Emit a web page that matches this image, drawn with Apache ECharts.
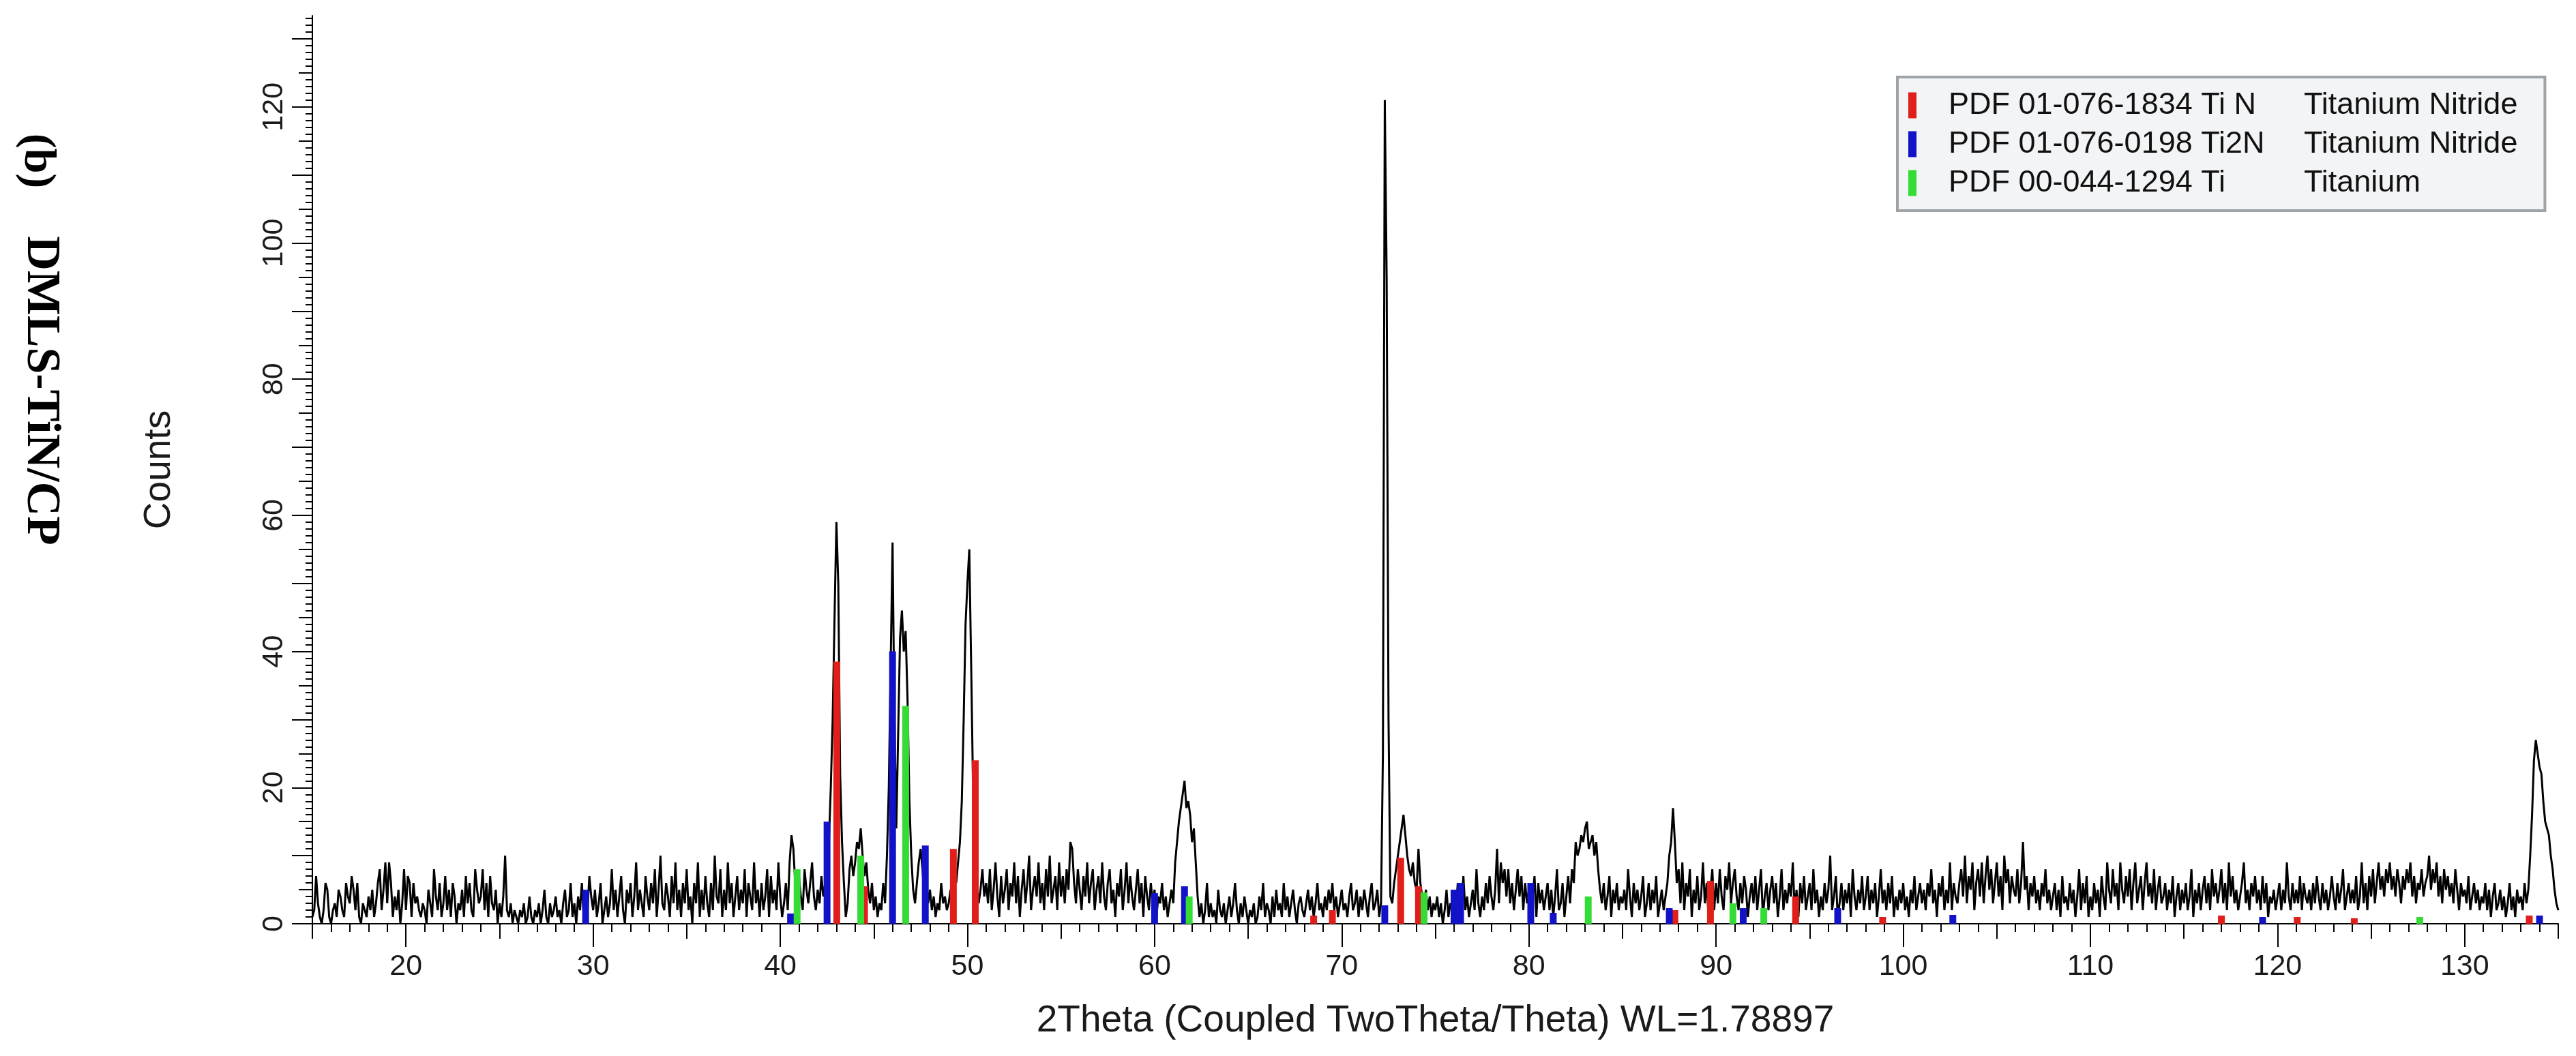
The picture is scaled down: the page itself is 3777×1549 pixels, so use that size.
<!DOCTYPE html>
<html><head><meta charset="utf-8">
<script src="https://cdn.jsdelivr.net/npm/echarts@6/dist/echarts.min.js"></script>
<style>html,body{margin:0;padding:0;background:#fff}#c{width:3777px;height:1549px}</style>
</head><body><div id="c"></div>
<script>
// scan step of the diffractometer (degrees 2theta)
const STEP = 0.1;
// measured counts, 0.1 deg steps; each block starts at the given angle
const counts15 = [
1,2,7,3,1,0,2,6,5,1, 0,2,3,1,5,4,2,1,6,4, 3,7,5,2,6,1,0,3,2,1, 4,2,5,1,3,6,8,2,5,9, 3,9,6,1,4,2,5,0,3,8,
2,7,6,1,6,3,4,2,1,3, 2,0,5,3,1,8,4,2,6,1, 3,7,2,5,1,6,4,0,3,2, 5,1,7,3,6,2,1,8,5,3, 4,8,2,6,1,7,3,2,5,0];
const counts25 = [
3,1,4,10,2,1,3,0,2,1, 0,2,1,3,0,1,4,1,0,2, 1,3,0,2,5,1,0,3,1,2, 4,1,2,0,3,5,1,2,6,1, 3,0,4,2,6,1,3,2,7,4,
2,5,1,3,6,0,2,4,1,3, 8,2,5,1,4,7,2,0,5,3, 6,1,4,9,2,5,3,1,7,4, 2,6,3,8,1,5,10,3,2,6, 4,1,7,3,9,2,5,1,6,3];
const counts35 = [
8,2,4,0,6,3,9,1,5,2, 7,3,1,6,2,10,4,3,8,1, 5,2,9,3,6,1,4,7,2,5, 3,8,1,6,4,2,9,3,5,1, 6,2,4,8,1,7,3,5,2,9,
4,1,3,6,2,9,13,11,6,3, 7,4,2,8,5,3,6,9,4,2, 5,3,7,4,6,8,12,20,30,45, 59,50,22,12,6,1,3,8,10,7, 9,12,11,14,10,7,9,5,3,6];
const counts45 = [
2,4,1,3,2,6,3,10,20,38, 56,30,14,28,42,46,40,43,33,18, 10,5,3,6,9,11,8,4,7,3, 5,2,4,1,3,2,6,3,4,2, 3,5,2,8,6,9,12,18,30,44,
50,55,38,20,9,6,3,5,8,4, 6,3,8,2,5,9,4,1,7,3, 5,8,2,6,4,9,3,7,1,5, 8,3,6,10,2,5,7,4,9,3, 6,2,8,4,10,3,5,7,2,9];
const counts55 = [
4,7,3,8,5,12,11,6,3,8, 5,2,7,4,9,3,6,8,2,5, 7,3,9,4,2,6,8,3,5,1, 6,4,8,2,5,9,3,7,4,2, 5,8,3,6,1,7,4,2,6,3,
5,1,4,3,6,2,4,1,3,5, 3,9,12,15,17,19,21,17,18,16, 12,14,9,4,1,3,0,2,6,1, 3,1,2,0,5,2,1,3,0,2, 4,1,3,6,2,0,3,1,4,2];
const counts65 = [
0,2,1,3,0,1,4,2,6,1, 3,2,0,4,1,5,2,3,1,6, 2,4,1,3,5,2,0,3,4,2, 1,3,5,2,4,1,3,6,2,3, 1,4,2,5,3,6,2,4,1,3,
5,2,3,1,4,6,2,3,5,1, 4,2,5,3,1,4,6,2,3,5, 1,3,25,121,95,30,4,3,6,8, 10,12,14,16,13,10,8,7,9,6, 5,11,6,4,3,5,2,4,1,3];
const counts75 = [
2,4,1,3,0,2,5,1,3,2, 4,2,6,1,3,7,2,4,1,3, 5,2,8,3,1,4,2,6,3,7, 4,2,5,11,3,9,6,8,4,8, 3,6,2,5,8,4,7,2,6,3,
5,2,4,7,1,6,3,5,2,4, 6,2,5,1,4,8,2,3,6,1, 4,7,3,8,6,12,10,11,13,12, 14,15,11,12,13,10,12,8,5,3, 6,2,4,7,1,5,3,6,2,4];
const counts85 = [
3,5,2,8,4,1,6,3,5,2, 4,7,1,3,6,2,5,3,7,1, 3,5,2,4,6,10,12,17,12,6, 8,3,9,2,6,4,8,1,5,3, 7,2,4,9,3,6,1,5,8,2,
6,3,8,4,2,7,5,9,3,6, 8,4,2,6,3,7,5,1,4,6, 3,7,2,5,8,1,4,6,2,5, 7,3,6,1,4,8,2,5,3,6, 4,9,2,5,1,6,3,7,2,4];
const counts95 = [
6,2,8,3,5,1,4,2,6,3, 5,10,2,4,7,1,3,6,2,5, 3,6,1,8,4,2,5,3,7,2, 4,7,2,5,3,6,1,4,8,3, 5,2,6,3,7,1,4,2,5,3,
6,2,4,1,5,3,7,2,4,6, 3,5,2,6,4,8,3,5,1,6, 4,7,2,5,3,9,2,6,4,3, 6,8,4,10,3,7,5,9,2,6, 8,4,9,3,7,10,5,8,3,6];
const counts105 = [
9,4,7,2,10,6,8,3,7,5, 4,8,3,6,12,5,7,2,6,4, 7,3,5,2,6,4,8,3,5,2, 4,6,2,5,1,7,3,4,2,6, 3,5,1,4,8,2,6,3,7,1,
4,2,6,3,5,1,7,4,2,9, 5,3,8,4,6,2,9,5,3,7, 4,8,2,6,9,3,5,7,2,6, 9,4,6,3,8,2,5,7,3,4, 6,2,5,3,7,1,4,6,2,5];
const counts115 = [
3,6,2,4,8,1,5,3,6,2, 5,7,3,6,2,8,4,6,3,5, 8,3,6,2,9,4,7,3,5,2, 4,6,9,3,5,2,6,4,7,3, 5,2,7,3,6,1,4,3,5,2,
4,6,2,5,3,9,4,2,6,3, 5,3,7,2,6,4,3,5,2,6, 3,7,4,2,6,3,5,2,4,7, 4,2,6,3,5,8,2,4,6,3, 5,3,7,2,4,9,3,6,2,7];
const counts125 = [
4,8,3,6,9,5,7,4,8,6, 9,5,7,4,8,6,3,7,5,8, 6,9,4,7,3,6,5,8,4,6, 7,10,5,8,6,9,4,7,3,8, 5,7,4,6,3,8,5,2,6,4,
5,3,7,2,4,6,3,5,2,4, 3,6,2,5,1,4,6,2,3,5, 2,4,1,3,6,2,4,1,5,3, 4,2,6,3,5,10,16,24,27,25, 23,22,18,15,14,13,10,8,5,3,
2];
const blocks = [[15,counts15],[25,counts25],[35,counts35],[45,counts45],[55,counts55],[65,counts65],
  [75,counts75],[85,counts85],[95,counts95],[105,counts105],[115,counts115],[125,counts125]];

// reference patterns: [2theta, relative height in counts]
const tiN = [[43.02,38.5],[44.5,5.5],[49.25,11],[50.42,24],[68.5,1.2],[69.5,2],[73.15,9.7],[74.1,5.5],
  [87.8,2],[89.7,6.3],[94.25,4],[98.9,1],[117.0,1.2],[121.05,1],[124.1,0.8],[133.45,1.2]];
const ti2N = [[29.6,5],[40.55,1.5],[42.5,15],[46.0,40],[47.75,11.5],[60.0,4.5],[61.6,5.5],[72.3,2.7],
  [76.0,5],[76.35,6],[80.1,6],[81.3,1.6],[87.5,2.3],[91.45,2.3],[96.5,2.3],[102.65,1.3],[119.2,1],[134.0,1.2]];
const ti = [[40.9,8],[44.3,10],[46.7,32],[61.85,4],[74.4,4.6],[83.17,4],[90.9,3],[92.55,2.3],[127.6,1]];

const legendCodes = ['PDF 01-076-1834 Ti N','PDF 01-076-0198 Ti2N','PDF 00-044-1294 Ti'];
const legendNames = ['Titanium Nitride','Titanium Nitride','Titanium'];
const xTickLabels = [20,30,40,50,60,70,80,90,100,110,120,130];
const yTickLabels = [0,20,40,60,80,100,120];

const X_MIN = 15, X_MAX = 135, Y_MIN = 0, Y_MAX = 133.4;

const lineData = [];
blocks.forEach(([start, arr]) => arr.forEach((c, i) => lineData.push([+(start + i*STEP).toFixed(2), c])));

function range(a, b, s){ const r=[]; for(let v=a; v<=b+1e-9; v+=s) r.push(+v.toFixed(4)); return r; }
const xMajor = xTickLabels, xMid = range(15,135,5), xMinor = range(15,135,1);
const yMajor = range(0,130,10), yMid = range(0,130,5), yMinor = range(0,133,1);

const FONT = 'Liberation Sans';
const tickStyle = {color:'#000', width:2};
function xAx(ticks, len, main){
  return {type:'value', min:X_MIN, max:X_MAX, position:'bottom', gridIndex:0,
    axisLine:{show:!!main, onZero:false, lineStyle:{color:'#000', width:2}},
    axisTick:{show:true, inside:false, length:len, customValues:ticks, lineStyle:tickStyle},
    axisLabel: main ? {show:true, customValues:xTickLabels, fontSize:43, margin:42, color:'#1a1a1a', fontFamily:FONT}
                    : {show:false},
    splitLine:{show:false},
    name: main ? '2Theta (Coupled TwoTheta/Theta) WL=1.78897' : '',
    nameLocation:'middle', nameGap:115,
    nameTextStyle:{fontSize:55, color:'#1a1a1a', fontFamily:FONT}};
}
function yAx(ticks, len, main){
  return {type:'value', min:Y_MIN, max:Y_MAX, position:'left', gridIndex:0,
    axisLine:{show:!!main, onZero:false, lineStyle:{color:'#000', width:2}},
    axisTick:{show:true, inside:false, length:len, customValues:ticks, lineStyle:tickStyle},
    axisLabel: main ? {show:true, customValues:yTickLabels, rotate:90, fontSize:43, margin:34, color:'#1a1a1a', fontFamily:FONT}
                    : {show:false},
    splitLine:{show:false},
    name: main ? 'Counts' : '',
    nameLocation:'middle', nameGap:197,
    nameTextStyle:{fontSize:55, color:'#1a1a1a', fontFamily:FONT}};
}

const chart = echarts.init(document.getElementById('c'), null, {renderer:'canvas'});
const barCommon = {type:'bar', barWidth:10, barGap:'-100%', z:3, xAxisIndex:0, yAxisIndex:0, animation:false};
chart.setOption({
  animation:false,
  backgroundColor:'#ffffff',
  grid:{left:458, right:26, top:23, bottom:194, containLabel:false},
  xAxis:[xAx(xMajor,34,true), xAx(xMid,22,false), xAx(xMinor,12,false)],
  yAxis:[yAx(yMajor,30,true), yAx(yMid,20,false), yAx(yMinor,10,false)],
  legend:{
    data:legendCodes, orient:'vertical', left:2782, top:113,
    padding:[19,40,18,16], itemGap:12, itemWidth:12, itemHeight:38, icon:'rect',
    backgroundColor:'#f3f4f6', borderColor:'#9ea3a8', borderWidth:4,
    selectedMode:false,
    formatter: name => '{a|' + name + '}{b|' + legendNames[legendCodes.indexOf(name)] + '}',
    textStyle:{color:'#111', fontSize:45, fontFamily:FONT,
      rich:{a:{fontSize:45, fontFamily:FONT, color:'#111', width:521, padding:[0,0,0,42]},
            b:{fontSize:45, fontFamily:FONT, color:'#111'}}}
  },
  graphic:[
    {type:'text', x:54, y:236, rotation:-Math.PI/2,
     style:{text:'(b)', fontSize:66, fontWeight:'bold', fontFamily:'Liberation Serif', fill:'#000',
            align:'center', verticalAlign:'middle', textAlign:'center', textVerticalAlign:'middle'}},
    {type:'text', x:59, y:573, rotation:-Math.PI/2,
     style:{text:'DMLS-TiN/CP', fontSize:70, fontWeight:'bold', fontFamily:'Liberation Serif', fill:'#000',
            align:'center', verticalAlign:'middle', textAlign:'center', textVerticalAlign:'middle'}}
  ],
  series:[
    {type:'line', name:'scan', data:lineData, symbol:'none', showSymbol:false, z:2, sampling:null,
     lineStyle:{color:'#000', width:3}, itemStyle:{color:'#000'}, animation:false},
    Object.assign({name:legendCodes[0], data:tiN, itemStyle:{color:'#e01e1a'}}, barCommon),
    Object.assign({name:legendCodes[1], data:ti2N, itemStyle:{color:'#1212c8'}}, barCommon),
    Object.assign({name:legendCodes[2], data:ti, itemStyle:{color:'#36dc36'}}, barCommon)
  ]
});
</script></body></html>
